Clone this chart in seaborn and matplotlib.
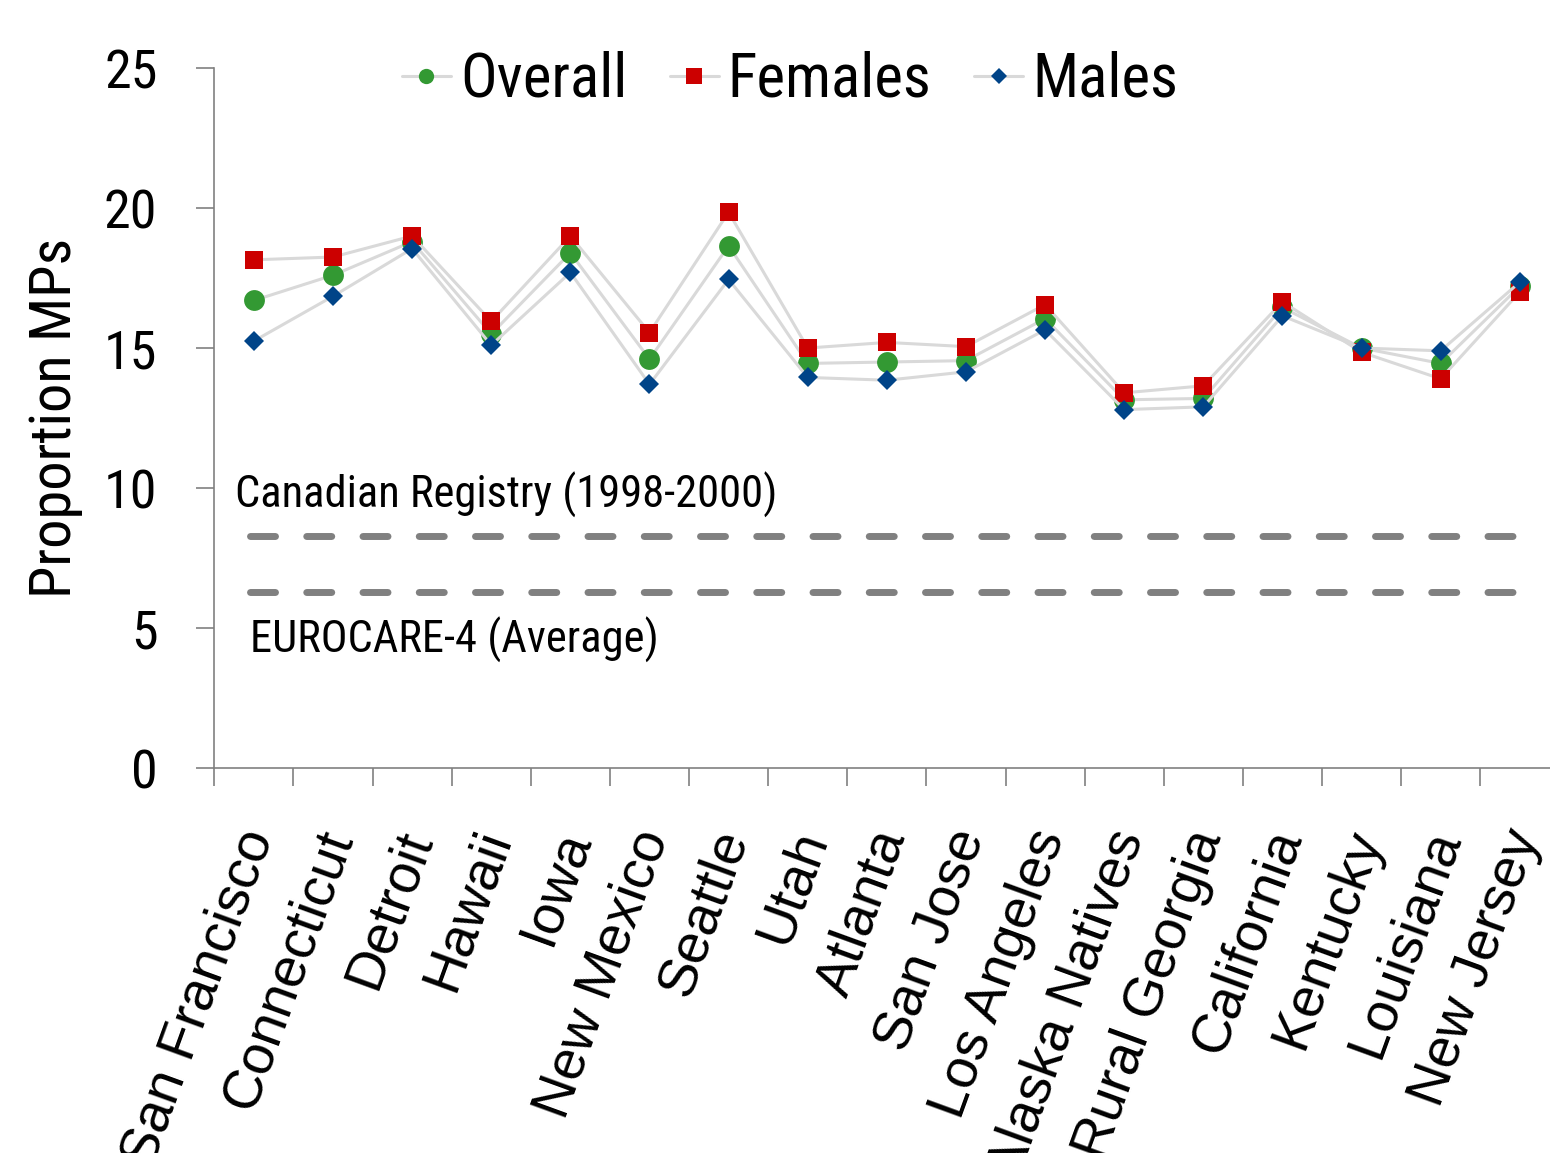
import numpy as np
import pandas as pd
import matplotlib
matplotlib.use("Agg")
import matplotlib.pyplot as plt
from matplotlib.lines import Line2D
from matplotlib.ticker import FixedLocator
from matplotlib.transforms import ScaledTranslation
import seaborn as sns

# ========== DATA ==========
regions = ["San Francisco", "Connecticut", "Detroit", "Hawaii", "Iowa", "New Mexico",
           "Seattle", "Utah", "Atlanta", "San Jose", "Los Angeles", "Alaska Natives",
           "Rural Georgia", "California", "Kentucky", "Louisiana", "New Jersey"]
overall = [16.7, 17.6, 18.8, 15.5, 18.4, 14.6, 18.65, 14.45, 14.5, 14.55, 16.05,
           13.15, 13.2, 16.45, 15.0, 14.45, 17.2]
females = [18.15, 18.25, 19.0, 15.95, 19.0, 15.55, 19.85, 15.0, 15.2, 15.05, 16.55,
           13.4, 13.65, 16.65, 14.85, 13.9, 17.0]
males = [15.25, 16.85, 18.55, 15.1, 17.7, 13.7, 17.45, 13.95, 13.85, 14.15, 15.65,
         12.8, 12.9, 16.15, 15.0, 14.9, 17.35]
canadian_ref = 8.3
eurocare_ref = 6.3

sns.set_style("white")
# narrow font for most text, regular sans for the rotated region names
plt.rcParams["font.family"] = ["Roboto Condensed", "DejaVu Sans"]
plt.rcParams["font.stretch"] = "condensed"
for key in ["text.color", "axes.labelcolor", "xtick.labelcolor", "ytick.labelcolor"]:
    plt.rcParams[key] = "black"

df = pd.DataFrame({"idx": np.arange(len(regions)), "region": regions,
                   "Overall": overall, "Females": females, "Males": males})

fig = plt.figure(figsize=(15.5, 11.53), dpi=100)
ax = fig.add_axes([0.1383, 0.3339, 0.8677, 0.6071])

LINE = "#d9d9d9"
# name, marker, colour, size on plot, size in legend
styles = [("Overall", "o", "#339933", 15, 11),
          ("Females", "s", "#cc0000", 13, 11),
          ("Males", "D", "#004488", 10.2, 8.5)]

for name, mk, col, ms, _ in styles:
    sns.lineplot(data=df, x="idx", y=name, ax=ax, color=LINE, lw=2.2,
                 marker=mk, markersize=ms, markerfacecolor=col,
                 markeredgecolor=col, markeredgewidth=0, zorder=3)

# reference lines
for ref in [canadian_ref, eurocare_ref]:
    ax.plot([-0.05, 15.95], [ref, ref], color="#808080", lw=5,
            ls=(0, (3.6, 4.5)), dash_capstyle="round", zorder=2)

ax.text(-0.24, 9.3, "Canadian Registry (1998-2000)", fontsize=32, va="baseline", ha="left")
ax.text(-0.05, 4.1, "EUROCARE-4 (Average)", fontsize=32, va="baseline", ha="left")

ax.set_xlim(-0.5, len(regions) - 0.5)
ax.set_ylim(0, 25)
ax.set_yticks([0, 5, 10, 15, 20, 25])
ax.tick_params(axis="y", labelsize=39, length=13, width=1.2, color="#808080", pad=28, left=True)

ax.set_xticks(df["idx"])
ax.set_xticklabels(regions, rotation=70, ha="right", va="center", rotation_mode="anchor",
                   fontsize=40, family=["Liberation Sans", "DejaVu Sans"], stretch="normal")
ax.tick_params(axis="x", which="major", length=0, pad=46)
ax.xaxis.set_minor_locator(FixedLocator(np.arange(-0.5, len(regions), 1.0)))
ax.tick_params(axis="x", which="minor", length=13, width=1.2, color="#808080", bottom=True)
shift = ScaledTranslation(4 / 72, 0, fig.dpi_scale_trans)
for lab in ax.get_xticklabels():
    lab.set_transform(lab.get_transform() + shift)

for side in ["top", "right"]:
    ax.spines[side].set_visible(False)
for side in ["left", "bottom"]:
    ax.spines[side].set_color("#808080")
    ax.spines[side].set_linewidth(1.2)

ax.set_xlabel("")
ax.set_ylabel("Proportion MPs", fontsize=42, labelpad=15)

handles = [Line2D([], [], color=LINE, lw=2.2, marker=mk, markersize=lms,
                  markerfacecolor=col, markeredgewidth=0, label=name)
           for name, mk, col, _, lms in styles]
ax.legend(handles=handles, loc="center", bbox_to_anchor=(0.428, 0.983), ncol=3,
          frameon=False, fontsize=44, handlelength=0.8, handletextpad=0.15,
          columnspacing=0.7, borderaxespad=0)

fig.savefig("out.png", dpi=100)
